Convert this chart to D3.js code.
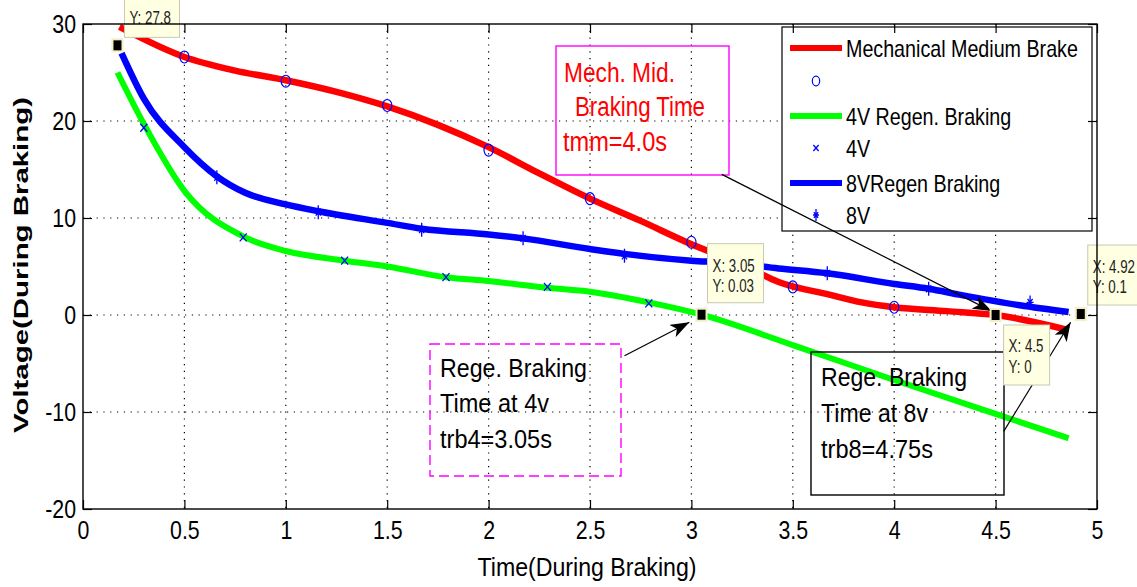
<!DOCTYPE html>
<html>
<head>
<meta charset="utf-8">
<script src="https://cdn.jsdelivr.net/npm/d3@7"></script>
<style>
  body { margin: 0; background: #fff; }
  svg { display: block; font-family: "Liberation Sans", Arial, sans-serif; }
  .grid line { stroke: #000; stroke-width: 1.2; stroke-dasharray: 1.2 5.6; }
  .axis .domain { display: none; }
  .axis line { stroke: #000; stroke-width: 1.2; }
  .axis text { fill: #000; }
</style>
</head>
<body>
<svg id="chart"></svg>
<script>
// ticks
const xTicks = [0, 0.5, 1, 1.5, 2, 2.5, 3, 3.5, 4, 4.5, 5];
const yTicks = [-20, -10, 0, 10, 20, 30];

// Mechanical Medium Brake (red line)
const mechT = [0.18, 0.5, 0.75, 1.0, 1.25, 1.5, 1.75, 2.0, 2.25, 2.5, 2.75, 3.0, 3.25, 3.43, 3.68, 3.84, 4.0, 4.26, 4.5, 4.86];
const mechV = [29.7, 26.6, 25.2, 24.2, 23.0, 21.5, 19.6, 17.3, 14.6, 12.0, 9.7, 7.3, 5.2, 3.4, 2.1, 1.3, 0.8, 0.4, 0.0, -1.55];
// blue 'o' markers
const circT = [0.5, 1, 1.5, 2, 2.5, 3, 3.5, 4, 4.5];
const circV = [26.6, 24.1, 21.6, 17.0, 12.0, 7.5, 2.9, 0.8, 0.0];

// 4V Regen. Braking (green line)
const regen4T = [0.17, 0.3, 0.5, 0.8, 1.0, 1.29, 1.5, 1.79, 2.0, 2.29, 2.5, 2.79, 3.05, 3.5, 4.0, 4.5, 4.86];
const regen4V = [25.0, 19.7, 12.8, 8.0, 6.6, 5.6, 5.0, 3.9, 3.5, 2.8, 2.4, 1.3, 0.03, -3.1, -6.7, -10.2, -12.7];
// 4V 'x' markers
const crossT = [0.3, 0.79, 1.29, 1.79, 2.29, 2.79];
const crossV = [19.3, 8.0, 5.6, 3.9, 2.9, 1.2];

// 8VRegen Braking (blue line)
const regen8T = [0.19, 0.3, 0.5, 0.66, 0.8, 1.0, 1.16, 1.5, 1.67, 2.0, 2.17, 2.5, 2.67, 3.0, 3.17, 3.43, 3.67, 4.0, 4.17, 4.32, 4.62, 4.86];
const regen8V = [27.0, 22.3, 17.3, 14.3, 12.6, 11.4, 10.7, 9.5, 8.9, 8.3, 7.9, 6.8, 6.3, 5.6, 5.4, 4.8, 4.3, 3.2, 2.7, 2.1, 1.0, 0.3];
// 8V '*' markers
const starT = [0.66, 1.16, 1.67, 2.17, 2.67, 3.17, 3.67, 4.17, 4.67];
const starV = [14.2, 10.6, 8.8, 7.9, 6.1, 5.5, 4.3, 2.7, 1.3];

// data tips
const tipT = [0.17, 3.05, 4.5, 4.92];
const tipV = [27.8, 0.03, 0, 0.1];

const legendLabels = ['Mechanical Medium Brake', '', '4V Regen. Braking', '4V', '8VRegen Braking', '8V'];

const W = 1137;
const H = 587;
const margin = { top: 24, right: 40, bottom: 78, left: 83 };

const svg = d3.select('#chart')
    .attr('width', W)
    .attr('height', H);

const x = d3.scaleLinear()
    .domain([0, 5])
    .range([margin.left, W - margin.right]);

const y = d3.scaleLinear()
    .domain([-20, 30])
    .range([H - margin.bottom, margin.top]);

// squeeze text horizontally, the figure was narrowed
const condense = (sel, k) => sel.each(function () {
  const len = this.getComputedTextLength();
  d3.select(this).attr('textLength', len * k).attr('lengthAdjust', 'spacingAndGlyphs');
});

// grid
const grid = svg.append('g').attr('class', 'grid');
grid.selectAll('.gx')
  .data(xTicks.slice(1, -1))
  .enter().append('line')
    .attr('x1', d => x(d)).attr('x2', d => x(d))
    .attr('y1', y(30)).attr('y2', y(-20));
grid.selectAll('.gy')
  .data(yTicks.slice(1, -1))
  .enter().append('line')
    .attr('x1', x(0)).attr('x2', x(5))
    .attr('y1', d => y(d)).attr('y2', d => y(d));

const line = d3.line()
    .x(d => x(d[0]))
    .y(d => y(d[1]))
    .curve(d3.curveMonotoneX);

const zip = (a, b) => a.map((v, i) => [v, b[i]]);

const blue = '#0000ff';

function drawCircle(g, cx, cy, s) {
  g.append('ellipse').attr('cx', cx).attr('cy', cy)
    .attr('rx', 4.6 * s).attr('ry', 6 * s)
    .attr('fill', 'none').attr('stroke', blue).attr('stroke-width', 1.2);
}
function drawCross(g, cx, cy, s) {
  g.append('path')
    .attr('d', `M${cx - 3.5 * s},${cy - 4 * s}L${cx + 3.5 * s},${cy + 4 * s}M${cx - 3.5 * s},${cy + 4 * s}L${cx + 3.5 * s},${cy - 4 * s}`)
    .attr('stroke', blue).attr('stroke-width', 1.3).attr('fill', 'none');
}
function drawStar(g, cx, cy, s) {
  g.append('path')
    .attr('d', `M${cx},${cy - 7 * s}L${cx},${cy + 7 * s}M${cx - 3.5 * s},${cy}L${cx + 3.5 * s},${cy}` +
      `M${cx - 2.5 * s},${cy - 3.5 * s}L${cx + 2.5 * s},${cy + 3.5 * s}M${cx - 2.5 * s},${cy + 3.5 * s}L${cx + 2.5 * s},${cy - 3.5 * s}`)
    .attr('stroke', blue).attr('stroke-width', 1.3).attr('fill', 'none');
}

const plot = svg.append('g');

plot.append('path')
    .datum(zip(mechT, mechV))
    .attr('fill', 'none').attr('stroke', '#ff0000').attr('stroke-width', 6.5)
    .attr('d', line);
zip(circT, circV).forEach(d => drawCircle(plot, x(d[0]), y(d[1]), 1));

plot.append('path')
    .datum(zip(regen4T, regen4V))
    .attr('fill', 'none').attr('stroke', '#00ff00').attr('stroke-width', 6)
    .attr('d', line);
zip(crossT, crossV).forEach(d => drawCross(plot, x(d[0]), y(d[1]), 1));

plot.append('path')
    .datum(zip(regen8T, regen8V))
    .attr('fill', 'none').attr('stroke', blue).attr('stroke-width', 6.5)
    .attr('d', line);
zip(starT, starV).forEach(d => drawStar(plot, x(d[0]), y(d[1]), 1));

// legend
const lg = svg.append('g');
lg.append('rect')
    .attr('x', 782).attr('y', 27).attr('width', 310).attr('height', 204)
    .attr('fill', '#fff').attr('stroke', '#000').attr('stroke-width', 1.2);
const rowY = [48, 81, 116, 148, 183, 215];
const legendKinds = ['red', 'o', 'green', 'x', 'blue', '*'];
legendLabels.forEach((lab, i) => {
  const k = legendKinds[i];
  const cy = rowY[i];
  if (k === 'red' || k === 'green' || k === 'blue') {
    lg.append('line')
      .attr('x1', 790).attr('x2', 842).attr('y1', cy).attr('y2', cy)
      .attr('stroke', k === 'red' ? '#ff0000' : k === 'green' ? '#00ff00' : blue)
      .attr('stroke-width', 6);
  } else if (k === 'o') drawCircle(lg, 816, cy, 0.8);
  else if (k === 'x') drawCross(lg, 816, cy, 0.75);
  else drawStar(lg, 816, cy, 0.85);
  if (lab) {
    lg.append('text')
      .attr('x', 846).attr('y', cy + 8.5)
      .attr('font-size', 24)
      .text(lab)
      .call(condense, 0.82);
  }
});

// text boxes
const notes = [
  { x: 556, y: 46, w: 173, h: 129, stroke: '#ff00ff', dash: null, color: '#ff0000', size: 27,
    lines: [['Mech. Mid.', 564, 82, 111], ['Braking Time', 575, 116, 130], ['tmm=4.0s', 563, 151, 104]] },
  { x: 430, y: 344, w: 191, h: 132, stroke: '#ff00ff', dash: '10 5', color: '#000', size: 25,
    lines: [['Rege. Braking', 440, 377, 147], ['Time at 4v', 440, 412, 109], ['trb4=3.05s', 440, 448, 112]] },
  { x: 811, y: 352, w: 193, h: 143, stroke: '#000', dash: null, color: '#000', size: 25,
    lines: [['Rege. Braking', 821, 386, 146], ['Time at 8v', 821, 422, 107], ['trb8=4.75s', 821, 458, 112]] }
];
const ann = svg.append('g');
notes.forEach(n => {
  ann.append('rect')
    .attr('x', n.x).attr('y', n.y).attr('width', n.w).attr('height', n.h)
    .attr('fill', 'none').attr('stroke', n.stroke).attr('stroke-width', 1.4)
    .attr('stroke-dasharray', n.dash);
  n.lines.forEach(l => {
    ann.append('text')
      .attr('x', l[1]).attr('y', l[2])
      .attr('font-size', n.size).attr('fill', n.color)
      .attr('textLength', l[3]).attr('lengthAdjust', 'spacingAndGlyphs')
      .text(l[0]);
  });
});

// arrows, in data units
svg.append('defs').append('marker')
    .attr('id', 'head')
    .attr('viewBox', '0 -7 19 14')
    .attr('refX', 19).attr('refY', 0)
    .attr('markerWidth', 19).attr('markerHeight', 14)
    .attr('markerUnits', 'userSpaceOnUse')
    .attr('orient', 'auto')
  .append('path')
    .attr('d', 'M0,-7L19,0L0,7L5,0Z')
    .attr('fill', '#000');
const arrows = [
  [3.15, 14.5, 4.48, 0.4],
  [2.67, -4.2, 2.99, -0.75],
  [4.54, -12.0, 4.87, -0.75]
];
arrows.forEach(a => {
  ann.append('line')
    .attr('x1', x(a[0])).attr('y1', y(a[1]))
    .attr('x2', x(a[2])).attr('y2', y(a[3]))
    .attr('stroke', '#000').attr('stroke-width', 1.2)
    .attr('marker-end', 'url(#head)');
});

// data tips
const tipBox = [
  { dx: 7, dy: -69, w: 55, h: 61, rows: [['Y', -21]] },
  { dx: 6, dy: -71, w: 56, h: 59, rows: [['X', -43], ['Y', -23]] },
  { dx: 8, dy: 10, w: 46, h: 60, rows: [['X', 37], ['Y', 58]] },
  { dx: 7, dy: -69, w: 62, h: 60, rows: [['X', -41], ['Y', -21]] }
];
const tips = svg.append('g');
tipT.forEach((t, i) => {
  const px = x(t);
  const py = y(tipV[i]);
  const b = tipBox[i];
  tips.append('rect')
    .attr('x', px + b.dx).attr('y', py + b.dy).attr('width', b.w).attr('height', b.h)
    .attr('fill', '#ffffe1').attr('stroke', '#c8c8b4').attr('stroke-width', 1);
  b.rows.forEach(r => {
    tips.append('text')
      .attr('x', px + b.dx + 5).attr('y', py + r[1])
      .attr('font-size', 18).attr('fill', '#222')
      .text(`${r[0]}: ${r[0] === 'X' ? t : tipV[i]}`)
      .call(condense, 0.74);
  });
  tips.append('rect')
    .attr('x', px - 5).attr('y', py - 6).attr('width', 10).attr('height', 12)
    .attr('fill', '#000').attr('stroke', '#f3efc4').attr('stroke-width', 2);
});

// axes with inward ticks, box
const fmt = d => String(d);
const ax = svg.append('g');
ax.append('g').attr('class', 'axis')
    .attr('transform', `translate(0, ${y(-20)})`)
    .call(d3.axisBottom(x).tickValues(xTicks).tickFormat(fmt).tickSizeInner(-9).tickSizeOuter(0).tickPadding(12))
    .call(g => g.selectAll('text').attr('font-size', 26).call(condense, 0.82));
ax.append('g').attr('class', 'axis')
    .attr('transform', `translate(0, ${y(30)})`)
    .call(d3.axisTop(x).tickValues(xTicks).tickFormat('').tickSizeInner(-9).tickSizeOuter(0));
ax.append('g').attr('class', 'axis')
    .attr('transform', `translate(${x(0)}, 0)`)
    .call(d3.axisLeft(y).tickValues(yTicks).tickFormat(fmt).tickSizeInner(-9).tickSizeOuter(0).tickPadding(7))
    .call(g => g.selectAll('text').attr('font-size', 26).call(condense, 0.82));
ax.append('g').attr('class', 'axis')
    .attr('transform', `translate(${x(5)}, 0)`)
    .call(d3.axisRight(y).tickValues(yTicks).tickFormat('').tickSizeInner(-9).tickSizeOuter(0));
ax.selectAll('.axis').attr('font-family', null);

ax.append('rect')
    .attr('x', x(0)).attr('y', y(30))
    .attr('width', x(5) - x(0)).attr('height', y(-20) - y(30))
    .attr('fill', 'none').attr('stroke', '#000').attr('stroke-width', 1.4);

// axis titles
ax.append('text')
    .attr('x', (x(0) + x(5)) / 2 - 3).attr('y', 576)
    .attr('text-anchor', 'middle')
    .attr('font-size', 25)
    .attr('textLength', 219).attr('lengthAdjust', 'spacingAndGlyphs')
    .text('Time(During Braking)');
ax.append('text')
    .attr('transform', `translate(28, 265) rotate(-90)`)
    .attr('text-anchor', 'middle')
    .attr('font-size', 20)
    .attr('font-weight', 'bold')
    .attr('textLength', 336).attr('lengthAdjust', 'spacingAndGlyphs')
    .text('Voltage(During Braking)');
</script>
</body>
</html>
